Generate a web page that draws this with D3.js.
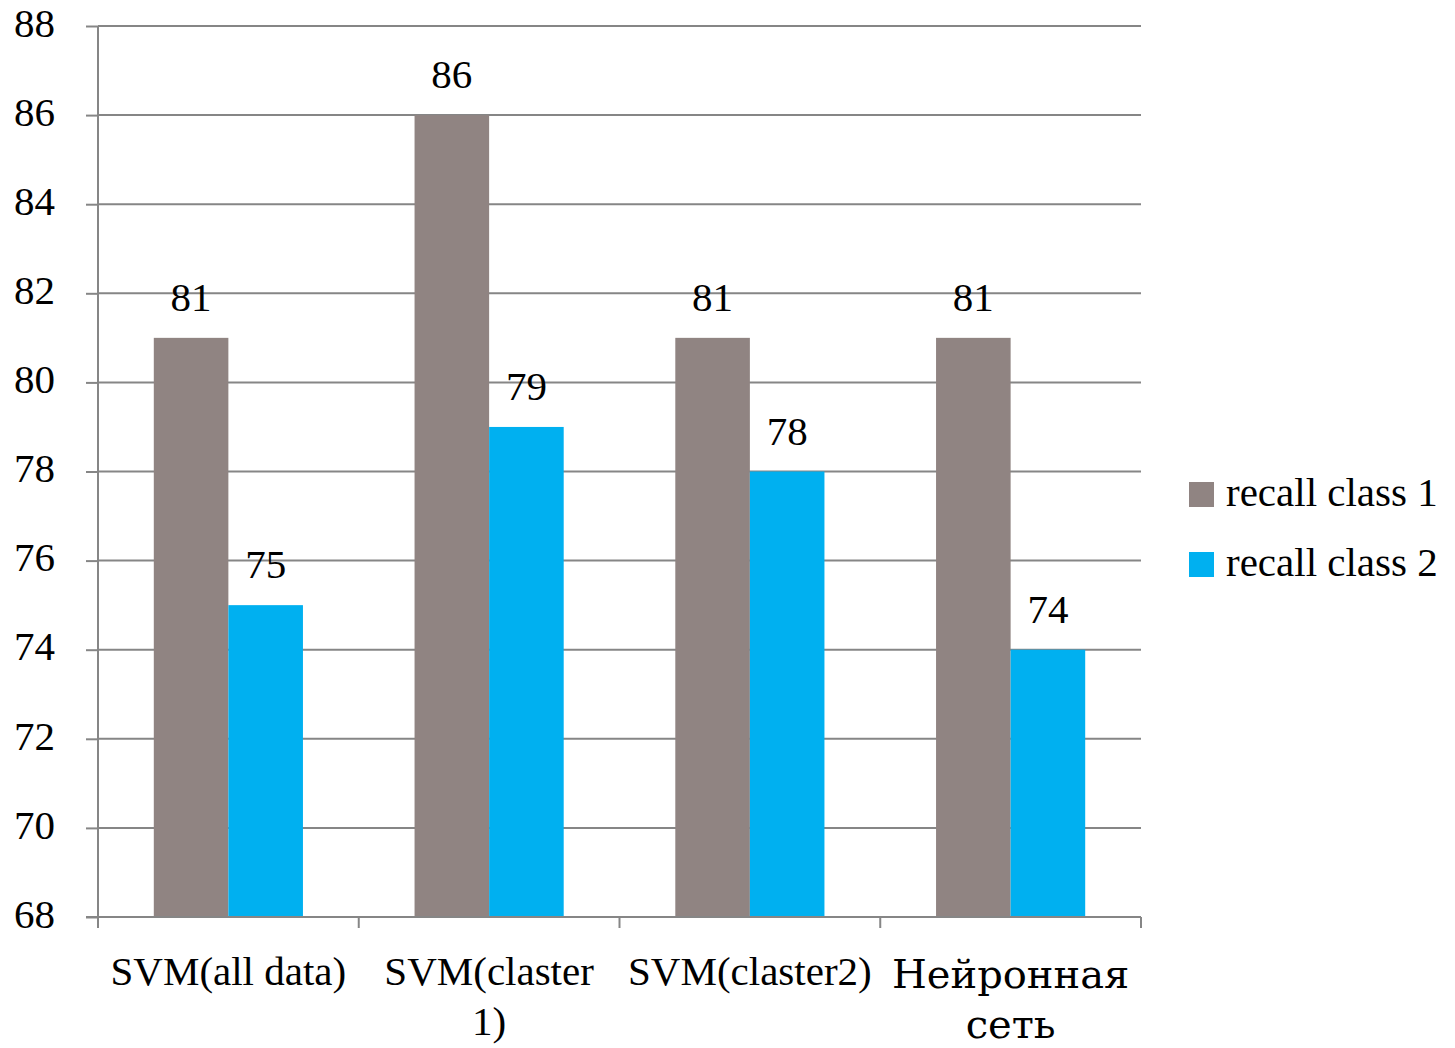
<!DOCTYPE html>
<html>
<head>
<meta charset="utf-8">
<script src="https://cdn.jsdelivr.net/npm/d3@7"></script>
<style>
  html, body { margin: 0; padding: 0; background: #fff; }
  svg text { fill: #000; }
</style>
</head>
<body>
<svg id="chart" width="1455" height="1048"></svg>
<script>
// Recall per model, two classes
const categories = [["SVM(all data)"], ["SVM(claster", "1)"], ["SVM(claster2)"], ["Нейронная", "сеть"]];
const seriesNames = ["recall class 1", "recall class 2"];
const recallClass1 = [81, 86, 81, 81];
const recallClass2 = [75, 79, 78, 74];
const yTicks = [68, 70, 72, 74, 76, 78, 80, 82, 84, 86, 88];
const colors = ["#908482", "#00b0f0"];

const serif = "'Liberation Serif', 'Times New Roman', serif";
const cyrSerif = "'DejaVu Serif', serif";
const gridColor = "#868686";

const svg = d3.select("#chart");
const plotLeft = 98, plotRight = 1141, plotTop = 26, plotBottom = 917;

const x0 = d3.scaleBand().domain(d3.range(categories.length)).range([plotLeft, plotRight]).paddingInner(0).paddingOuter(0);
const groupW = x0.bandwidth() * 0.572;
const x1 = d3.scaleBand().domain(d3.range(seriesNames.length)).range([0, groupW]);
const y = d3.scaleLinear().domain([68, 88]).range([plotBottom, plotTop]);

// y ticks (outward) and labels
const yAxis = d3.axisLeft(y).tickValues(yTicks).tickSize(12).tickPadding(31);
const gy = svg.append("g").attr("transform", `translate(${plotLeft},0)`).call(yAxis);
gy.select(".domain").remove();
gy.selectAll(".tick line").attr("stroke", gridColor).attr("stroke-width", 2);
gy.selectAll(".tick text")
  .style("font-family", serif).style("font-size", "41px")
  .attr("fill", "#000").attr("dy", "0.25em");

// horizontal gridlines
svg.append("g").selectAll("line").data(yTicks).join("line")
  .attr("x1", plotLeft).attr("x2", plotRight)
  .attr("y1", d => y(d)).attr("y2", d => y(d))
  .attr("stroke", gridColor).attr("stroke-width", 2);

// bars
const data = categories.map((c, i) => [recallClass1[i], recallClass2[i]]);
const groups = svg.append("g").selectAll("g").data(data).join("g")
  .attr("transform", (d, i) => `translate(${x0(i) + (x0.bandwidth() - groupW) / 2},0)`);
groups.selectAll("rect").data(d => d).join("rect")
  .attr("x", (d, j) => x1(j)).attr("width", x1.bandwidth())
  .attr("y", d => y(d)).attr("height", d => plotBottom - y(d))
  .attr("fill", (d, j) => colors[j]);
groups.selectAll("text.val").data(d => d).join("text")
  .attr("class", "val")
  .attr("x", (d, j) => x1(j) + x1.bandwidth() / 2)
  .attr("y", d => y(d) - 27)
  .attr("text-anchor", "middle")
  .style("font-family", serif).style("font-size", "41px")
  .text(d => d);

// axis lines
svg.append("line").attr("x1", plotLeft).attr("x2", plotLeft).attr("y1", plotTop).attr("y2", plotBottom + 11)
  .attr("stroke", gridColor).attr("stroke-width", 2);
svg.append("line").attr("x1", plotLeft - 12).attr("x2", plotRight).attr("y1", plotBottom).attr("y2", plotBottom)
  .attr("stroke", gridColor).attr("stroke-width", 2);
const xTickPos = d3.range(categories.length + 1).map(i => plotLeft + i * x0.bandwidth());
svg.append("g").selectAll("line").data(xTickPos).join("line")
  .attr("x1", d => d).attr("x2", d => d).attr("y1", plotBottom).attr("y2", plotBottom + 11)
  .attr("stroke", gridColor).attr("stroke-width", 2);

// category labels
const cat = svg.append("g").selectAll("text").data(categories).join("text")
  .attr("x", (d, i) => x0(i) + x0.bandwidth() / 2)
  .attr("y", (d, i) => i === 3 ? 988 : 985)
  .attr("text-anchor", "middle")
  .style("font-size", (d, i) => i === 3 ? "40px" : "41px")
  .style("font-family", (d, i) => i === 3 ? cyrSerif : serif);
cat.selectAll("tspan").data(d => d).join("tspan")
  .attr("x", function() { return this.parentNode.getAttribute("x"); })
  .attr("dy", (d, k) => k === 0 ? 0 : 50)
  .text(d => d);

// legend
const legend = svg.append("g").selectAll("g").data(seriesNames).join("g")
  .attr("transform", (d, i) => `translate(1189,${494.5 + i * 70})`);
legend.append("rect").attr("x", 0).attr("y", -12.5).attr("width", 25).attr("height", 25)
  .attr("fill", (d, i) => colors[i]);
legend.append("text").attr("x", 37).attr("y", 11)
  .style("font-family", serif).style("font-size", "41px")
  .text(d => d);
</script>
</body>
</html>
